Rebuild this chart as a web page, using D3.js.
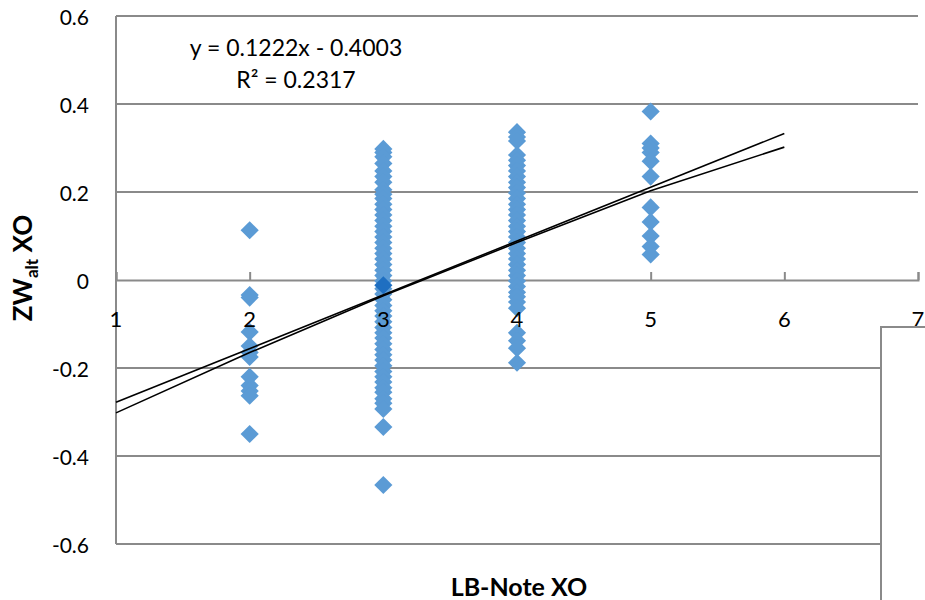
<!DOCTYPE html>
<html>
<head>
<meta charset="utf-8">
<script src="https://cdn.jsdelivr.net/npm/d3@7"></script>
<style>
  html, body { margin: 0; padding: 0; background: #fff; }
  svg { display: block; }
  text { font-family: Lato, "Open Sans", sans-serif; fill: #000; }
</style>
</head>
<body>
<svg id="chart" width="925" height="600"></svg>
<script>
// ---- data ----
const xTicks = [1, 2, 3, 4, 5, 6, 7];
const yTicks = [-0.6, -0.4, -0.2, 0, 0.2, 0.4, 0.6];
const yTickLabels = ["-0.6", "-0.4", "-0.2", "0", "0.2", "0.4", "0.6"];

const valuesAt2 = [0.113, -0.034, -0.040, -0.118, -0.150, -0.165, -0.175, -0.220, -0.240, -0.252, -0.263, -0.350];
const valuesAt3 = [0.298, 0.290, 0.280, 0.265, 0.248, 0.235, 0.222, 0.205, 0.195, 0.185, 0.172, 0.160,
  0.148, 0.135, 0.122, 0.110, 0.098, 0.085, 0.072, 0.060, 0.048, 0.035, 0.022, 0.010, -0.002,
  -0.020, -0.032, -0.045, -0.058, -0.070, -0.082, -0.095, -0.108, -0.120, -0.132, -0.145, -0.158,
  -0.170, -0.182, -0.195, -0.208, -0.220, -0.232, -0.245, -0.255, -0.270, -0.280, -0.293, -0.334, -0.466];
const valuesAt4 = [0.336, 0.325, 0.316, 0.284, 0.272, 0.260, 0.248, 0.235, 0.222, 0.210, 0.198, 0.185,
  0.172, 0.160, 0.148, 0.135, 0.122, 0.110, 0.098, 0.085, 0.072, 0.060, 0.048, 0.035, 0.022,
  0.010, -0.002, -0.015, -0.028, -0.038, -0.050, -0.064, -0.120, -0.138, -0.155, -0.188];
const valuesAt5 = [0.383, 0.310, 0.300, 0.290, 0.270, 0.235, 0.165, 0.132, 0.100, 0.076, 0.058];
const highlightPoint = [{ x: 3, y: -0.012 }];

// linear trendline y = 0.1222x - 0.4003 (endpoints x=1..6)
const trendSlope = 0.1222, trendIntercept = -0.4003;
const trendX = [1, 6];
// second (fitted curve) line
const curveX = [1, 2, 3, 4, 5, 6];
const curveY = [-0.302, -0.165, -0.036, 0.085, 0.203, 0.302];

const equationText = "y = 0.1222x - 0.4003";
const r2Text = "R² = 0.2317";

// ---- build ----
const points = [];
[[2, valuesAt2], [3, valuesAt3], [4, valuesAt4], [5, valuesAt5]].forEach(([x, arr]) => {
  arr.forEach(v => points.push({ x, y: v }));
});

const svg = d3.select("#chart");
const x = d3.scaleLinear().domain([1, 7]).range([116, 918]);
const y = d3.scaleLinear().domain([-0.6, 0.6]).range([544, 16]);
const gridColor = "#8a8a8a";

// gridlines
svg.append("g").selectAll("line").data(yTicks.filter(d => d !== 0)).join("line")
  .attr("x1", x(1)).attr("x2", x(7))
  .attr("y1", d => y(d)).attr("y2", d => y(d))
  .attr("stroke", gridColor).attr("stroke-width", 2);

// y axis line
svg.append("line").attr("x1", x(1)).attr("x2", x(1)).attr("y1", y(0.6)).attr("y2", y(-0.6))
  .attr("stroke", gridColor).attr("stroke-width", 2);

// x axis (at y=0) with inward ticks
const xAxis = d3.axisTop(x).tickValues(xTicks).tickSize(8).tickFormat("");
const gx = svg.append("g").attr("transform", `translate(0,${y(0)})`).call(xAxis);
gx.select(".domain").attr("stroke", gridColor).attr("stroke-width", 2);
gx.selectAll(".tick line").attr("stroke", gridColor).attr("stroke-width", 2);

// points
const diamond = d3.symbol().type(d3.symbolSquare).size(165);
svg.append("g").selectAll("path").data(points).join("path")
  .attr("d", diamond)
  .attr("transform", d => `translate(${x(d.x)},${y(d.y)}) rotate(45)`)
  .attr("fill", "#5b9bd5");
svg.append("g").selectAll("path").data(highlightPoint).join("path")
  .attr("d", diamond)
  .attr("transform", d => `translate(${x(d.x)},${y(d.y)}) rotate(45)`)
  .attr("fill", "#1f6fc1");

// trend lines
const line = d3.line().x(d => x(d[0])).y(d => y(d[1]));
svg.append("path")
  .attr("d", line(curveX.map((cx, i) => [cx, curveY[i]])))
  .attr("fill", "none").attr("stroke", "#000").attr("stroke-width", 1.6);
svg.append("path")
  .attr("d", line(trendX.map(tx => [tx, trendSlope * tx + trendIntercept])))
  .attr("fill", "none").attr("stroke", "#000").attr("stroke-width", 1.6);

// x tick labels
svg.append("g").selectAll("text").data(xTicks).join("text")
  .attr("x", d => x(d)).attr("y", 327)
  .attr("text-anchor", "middle").attr("font-size", 22)
  .text(d => d);

// y tick labels
svg.append("g").selectAll("text").data(yTicks).join("text")
  .attr("x", 89).attr("y", d => y(d) + 9)
  .attr("text-anchor", "end").attr("font-size", 21)
  .text((d, i) => yTickLabels[i]);

// equation
svg.append("text").attr("x", 296).attr("y", 56).attr("text-anchor", "middle")
  .attr("font-size", 23).text(equationText);
svg.append("text").attr("x", 296).attr("y", 88).attr("text-anchor", "middle")
  .attr("font-size", 23).text(r2Text);

// axis titles
svg.append("text").attr("x", 519).attr("y", 596).attr("text-anchor", "middle")
  .attr("font-size", 25).attr("font-weight", "bold").text("LB-Note XO");
const yt = svg.append("text").attr("transform", "translate(32,268) rotate(-90)")
  .attr("text-anchor", "middle").attr("font-size", 26).attr("font-weight", "bold");
yt.append("tspan").text("ZW");
yt.append("tspan").attr("font-size", 17).attr("dy", 6).text("alt");
yt.append("tspan").attr("dy", -6).text(" XO");

// partially visible legend box
svg.append("rect").attr("x", 881).attr("y", 327).attr("width", 80).attr("height", 300)
  .attr("fill", "#fff").attr("stroke", gridColor).attr("stroke-width", 2);
</script>
</body>
</html>
